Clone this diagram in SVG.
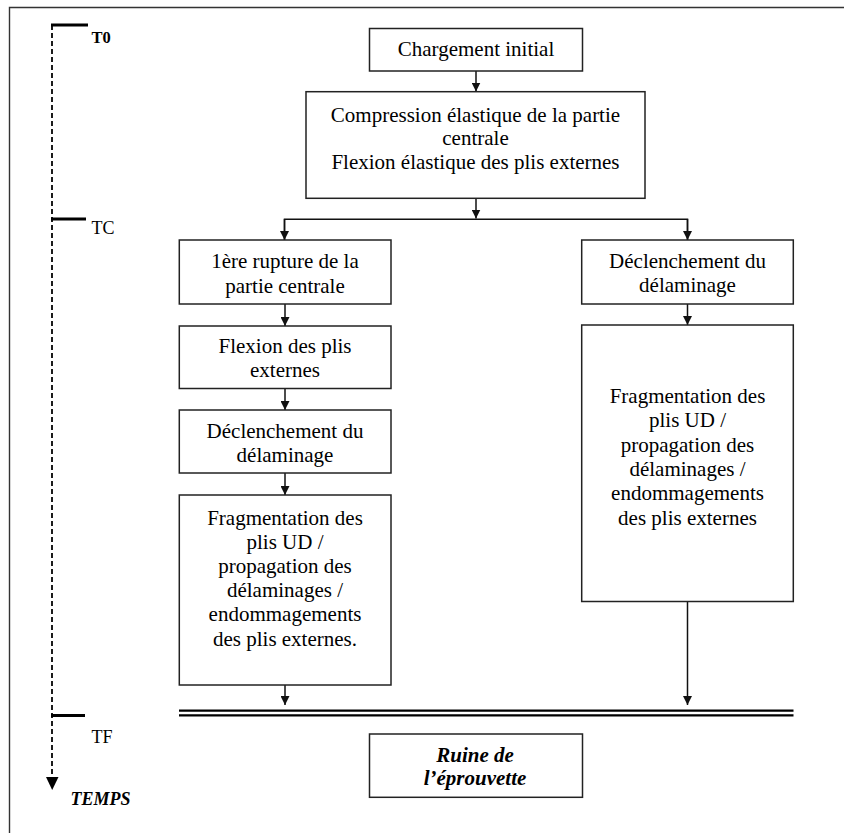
<svg xmlns="http://www.w3.org/2000/svg" width="844" height="833" viewBox="0 0 844 833">
<defs>
<marker id="ah" markerUnits="userSpaceOnUse" markerWidth="9" markerHeight="9" refX="9" refY="4.5" orient="auto">
<path d="M0,0 L9,4.5 L0,9 z" fill="#111"/>
</marker>
<style>
.box{fill:#fff;stroke:#222;stroke-width:1.5}
.t{font-family:"Liberation Serif","Times New Roman","DejaVu Serif",serif;font-size:21px;fill:#000;text-anchor:middle}
.bi{font-weight:bold;font-style:italic}
.lbl{font-family:"Liberation Serif","Times New Roman","DejaVu Serif",serif;fill:#000}
.c{fill:none;stroke:#111;stroke-width:1.5}
.tick{stroke:#000;stroke-width:3.2}
</style>
</defs>
<rect width="844" height="833" fill="#fff"/>
<path d="M9.5,840 V7.5 H850" fill="none" stroke="#333" stroke-width="1.4"/>

<g id="timeline">
<line x1="52" y1="25" x2="52" y2="778" stroke="#111" stroke-width="1.9" stroke-dasharray="5,3"/>
<path d="M46,777 L58.5,777 L52.2,790 z" fill="#000"/>
<line class="tick" x1="51" y1="25" x2="88" y2="25"/>
<line class="tick" x1="51" y1="219" x2="86" y2="219"/>
<line class="tick" x1="51" y1="715.5" x2="85" y2="715.5"/>
<text class="lbl" x="91.5" y="43" font-size="16.5" font-weight="bold">T0</text>
<text class="lbl" x="91.5" y="234" font-size="18">TC</text>
<text class="lbl" x="91.5" y="742.5" font-size="18">TF</text>
<text class="lbl" x="70.5" y="805" font-size="18" font-weight="bold" font-style="italic">TEMPS</text>
</g>

<g id="connectors">
<line class="c" x1="476" y1="71" x2="476" y2="91.5" marker-end="url(#ah)"/>
<line class="c" x1="476" y1="198.5" x2="476" y2="218.5" marker-end="url(#ah)"/>
<polyline class="c" points="284.5,240 284.5,219.2 687.5,219.2 687.5,240"/>
<line class="c" x1="284.5" y1="219" x2="284.5" y2="240" marker-end="url(#ah)"/>
<line class="c" x1="687.5" y1="219" x2="687.5" y2="240" marker-end="url(#ah)"/>
<line class="c" x1="285" y1="304" x2="285" y2="326" marker-end="url(#ah)"/>
<line class="c" x1="285" y1="388.5" x2="285" y2="410" marker-end="url(#ah)"/>
<line class="c" x1="285" y1="473" x2="285" y2="495" marker-end="url(#ah)"/>
<line class="c" x1="285" y1="685" x2="285" y2="705" marker-end="url(#ah)"/>
<line class="c" x1="687.5" y1="304" x2="687.5" y2="325" marker-end="url(#ah)"/>
<line class="c" x1="687.5" y1="601.5" x2="687.5" y2="705" marker-end="url(#ah)"/>
<line x1="179" y1="710.7" x2="793.5" y2="710.7" stroke="#000" stroke-width="2.2"/>
<line x1="179" y1="715.4" x2="793.5" y2="715.4" stroke="#000" stroke-width="2.4"/>
</g>

<g id="n1">
<rect class="box" x="369.5" y="28.5" width="213" height="42.5"/>
<text class="t" x="476" y="56">Chargement initial</text>
</g>

<g id="n2">
<rect class="box" x="306" y="91.7" width="339" height="106.6"/>
<text class="t" x="475.5" y="121.5">Compression élastique de la partie</text>
<text class="t" x="475.5" y="145">centrale</text>
<text class="t" x="475.5" y="169">Flexion élastique des plis externes</text>
</g>

<g id="n3">
<rect class="box" x="179.3" y="240" width="211.7" height="64"/>
<text class="t" x="285" y="268">1ère rupture de la</text>
<text class="t" x="285" y="293">partie centrale</text>
</g>

<g id="n4">
<rect class="box" x="179.3" y="326" width="211.7" height="62.5"/>
<text class="t" x="285" y="353">Flexion des plis</text>
<text class="t" x="285" y="377">externes</text>
</g>

<g id="n5">
<rect class="box" x="179.3" y="410" width="211.7" height="63"/>
<text class="t" x="285" y="438">Déclenchement du</text>
<text class="t" x="285" y="462">délaminage</text>
</g>

<g id="n6">
<rect class="box" x="179.3" y="495" width="211.7" height="190"/>
<text class="t" x="285" y="525">Fragmentation des</text>
<text class="t" x="285" y="549">plis UD /</text>
<text class="t" x="285" y="573">propagation des</text>
<text class="t" x="285" y="597">délaminages /</text>
<text class="t" x="285" y="621">endommagements</text>
<text class="t" x="285" y="645.5">des plis externes.</text>
</g>

<g id="n7">
<rect class="box" x="581.7" y="240" width="211.6" height="64"/>
<text class="t" x="687.5" y="268">Déclenchement du</text>
<text class="t" x="687.5" y="292">délaminage</text>
</g>

<g id="n8">
<rect class="box" x="581.7" y="325" width="211.6" height="276.5"/>
<text class="t" x="687.5" y="403">Fragmentation des</text>
<text class="t" x="687.5" y="427.3">plis UD /</text>
<text class="t" x="687.5" y="451.6">propagation des</text>
<text class="t" x="687.5" y="476">délaminages /</text>
<text class="t" x="687.5" y="500.3">endommagements</text>
<text class="t" x="687.5" y="524.6">des plis externes</text>
</g>

<g id="n9">
<rect class="box" x="369.5" y="734" width="213" height="63.3"/>
<text class="t bi" x="475" y="761.5">Ruine de</text>
<text class="t bi" x="475" y="785">l’éprouvette</text>
</g>
</svg>
